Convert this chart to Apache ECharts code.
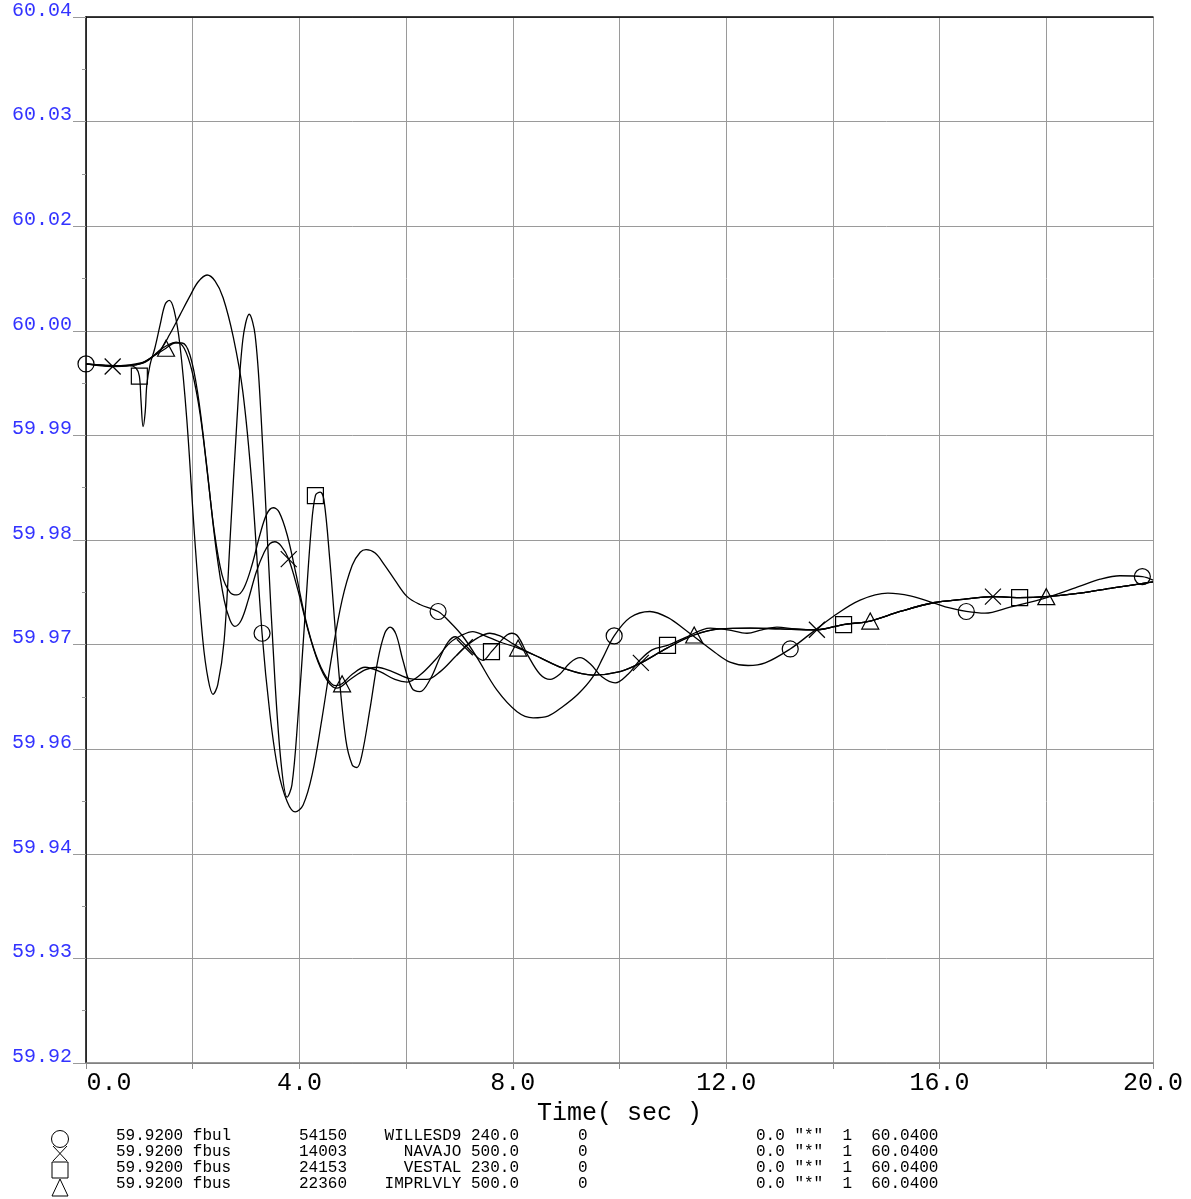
<!DOCTYPE html>
<html><head><meta charset="utf-8">
<script src="https://cdn.jsdelivr.net/npm/echarts@6/dist/echarts.min.js"></script>
<style>html,body{margin:0;padding:0;background:#fff}#c{width:1191px;height:1199px}</style>
</head><body><div id="c"></div>
<script>
// ---- data (time in s, frequency in Hz) ----
const willesd9 = [[0,60.0002],[0.45,60.0000],[0.82,60.0001],[1.11,60.0005],[1.39,60.0018],[1.57,60.0036],[1.76,60.0058],[1.95,60.0080],[2.10,60.0096],[2.27,60.0104],[2.42,60.0097],[2.57,60.0078],[2.76,60.0033],[2.94,59.9970],[3.11,59.9863],[3.3,59.9693],[3.45,59.9599],[3.60,59.9536],[3.77,59.9500],[3.92,59.9488],[4.07,59.9496],[4.24,59.9531],[4.42,59.9594],[4.61,59.9668],[4.80,59.9731],[4.99,59.9771],[5.14,59.9786],[5.25,59.9789],[5.42,59.9785],[5.60,59.9771],[5.79,59.9754],[6.02,59.9735],[6.26,59.9726],[6.6,59.9718],[6.82,59.9706],[7.07,59.9689],[7.33,59.9665],[7.70,59.9628],[8.08,59.9603],[8.38,59.9596],[8.66,59.9598],[8.94,59.9609],[9.22,59.9623],[9.50,59.9643],[9.69,59.9665],[9.9,59.9690],[10.20,59.9711],[10.57,59.9718],[10.91,59.9711],[11.23,59.9697],[11.51,59.9684],[11.79,59.9671],[12.07,59.9660],[12.41,59.9656],[12.73,59.9659],[13.2,59.9675],[13.57,59.9692],[14.00,59.9712],[14.51,59.9731],[15.03,59.9739],[15.45,59.9736],[15.88,59.9728],[16.19,59.9722],[16.5,59.9718],[16.85,59.9716],[17.32,59.9723],[18.01,59.9734],[18.63,59.9747],[19.01,59.9755],[19.38,59.9759],[19.8,59.9758],[20.0,59.9754]];

const navajo = [[0,60.0002],[0.5,59.9999],[0.82,60.0000],[1.11,60.0004],[1.35,60.0016],[1.54,60.0024],[1.69,60.0027],[1.84,60.0020],[1.99,59.9993],[2.14,59.9944],[2.29,59.9869],[2.44,59.9789],[2.59,59.9731],[2.70,59.9708],[2.79,59.9701],[2.91,59.9708],[3.04,59.9731],[3.19,59.9763],[3.34,59.9786],[3.45,59.9796],[3.54,59.9798],[3.66,59.9793],[3.8,59.9778],[3.97,59.9743],[4.16,59.9697],[4.35,59.9660],[4.54,59.9637],[4.70,59.9630],[4.95,59.9640],[5.23,59.9651],[5.45,59.9654],[5.74,59.9649],[6.07,59.9641],[6.39,59.9640],[6.64,59.9649],[6.92,59.9666],[7.1,59.9677],[7.35,59.9688],[7.57,59.9693],[7.76,59.9690],[7.95,59.9683],[8.14,59.9676],[8.51,59.9665],[8.94,59.9653],[9.50,59.9645],[10.01,59.9649],[10.4,59.9659],[10.89,59.9676],[11.4,59.9691],[11.88,59.9698],[12.45,59.9699],[13.01,59.9698],[13.7,59.9697],[14.19,59.9703],[14.7,59.9707],[15.26,59.9718],[15.88,59.9728],[16.44,59.9732],[17.0,59.9735],[17.49,59.9734],[18.0,59.9735],[18.63,59.9739],[19.25,59.9745],[20,59.9752]];

const vestal = [[0,60.0002],[0.45,60.0000],[0.82,60.0000],[0.94,59.9997],[1.0,59.9988],[1.03,59.9961],[1.07,59.9930],[1.11,59.9947],[1.14,59.9978],[1.20,60.0001],[1.29,60.0020],[1.39,60.0047],[1.48,60.0070],[1.56,60.0075],[1.65,60.0064],[1.76,60.0024],[1.89,59.9938],[2.04,59.9800],[2.19,59.9685],[2.29,59.9640],[2.38,59.9623],[2.47,59.9634],[2.59,59.9685],[2.70,59.9800],[2.83,59.9938],[2.94,60.0030],[3.06,60.0059],[3.17,60.0035],[3.28,59.9944],[3.41,59.9789],[3.54,59.9640],[3.66,59.9542],[3.77,59.9505],[3.86,59.9519],[3.97,59.9594],[4.10,59.9708],[4.22,59.9812],[4.3,59.9851],[4.39,59.9855],[4.46,59.9846],[4.57,59.9777],[4.72,59.9662],[4.87,59.9571],[4.99,59.9542],[5.08,59.9539],[5.17,59.9553],[5.32,59.9605],[5.47,59.9662],[5.60,59.9693],[5.70,59.9700],[5.81,59.9692],[5.94,59.9662],[6.11,59.9630],[6.26,59.9626],[6.45,59.9640],[6.64,59.9666],[6.79,59.9683],[6.92,59.9689],[7.07,59.9682],[7.24,59.9671],[7.44,59.9662],[7.6,59.9672],[7.76,59.9683],[7.89,59.9691],[7.98,59.9693],[8.10,59.9689],[8.28,59.9668],[8.51,59.9646],[8.70,59.9640],[8.88,59.9646],[9.07,59.9659],[9.26,59.9665],[9.45,59.9658],[9.67,59.9643],[9.92,59.9636],[10.16,59.9646],[10.38,59.9662],[10.61,59.9674],[10.9,59.9679],[11.23,59.9688],[11.70,59.9699],[12.03,59.9697],[12.39,59.9693],[12.67,59.9697],[12.95,59.9700],[13.29,59.9698],[13.70,59.9697],[14.2,59.9703],[14.70,59.9707],[15.26,59.9718],[15.88,59.9728],[16.44,59.9732],[17.00,59.9735],[17.5,59.9734],[17.99,59.9735],[18.63,59.9739],[19.25,59.9745],[20,59.9752]];

const imprlvly = [[0,60.0002],[0.64,60.0000],[1.01,60.0002],[1.29,60.0012],[1.5,60.0020],[1.67,60.0026],[1.80,60.0026],[1.95,60.0012],[2.10,59.9966],[2.25,59.9892],[2.40,59.9812],[2.55,59.9760],[2.70,59.9740],[2.83,59.9737],[2.96,59.9745],[3.11,59.9771],[3.26,59.9806],[3.39,59.9830],[3.51,59.9837],[3.62,59.9832],[3.77,59.9806],[3.94,59.9760],[4.12,59.9708],[4.31,59.9668],[4.50,59.9643],[4.67,59.9633],[4.8,59.9635],[4.99,59.9646],[5.23,59.9654],[5.51,59.9649],[5.79,59.9640],[6.02,59.9637],[6.26,59.9645],[6.54,59.9662],[6.82,59.9682],[7.05,59.9691],[7.25,59.9695],[7.48,59.9690],[7.76,59.9683],[8.1,59.9676],[8.51,59.9665],[8.94,59.9653],[9.50,59.9645],[10.01,59.9649],[10.4,59.9659],[10.89,59.9676],[11.4,59.9691],[11.88,59.9698],[12.45,59.9699],[13.01,59.9698],[13.7,59.9697],[14.19,59.9703],[14.7,59.9707],[15.26,59.9718],[15.88,59.9728],[16.44,59.9732],[17.0,59.9735],[17.49,59.9734],[18.0,59.9735],[18.63,59.9739],[19.25,59.9745],[20,59.9752]];

// marker times for each curve
const circleMarks   = [0, 3.3, 6.6, 9.9, 13.2, 16.5, 19.8];
const crossMarks    = [0.5, 3.8, 7.1, 10.4, 13.7, 17.0];
const squareMarks   = [1.0, 4.3, 7.6, 10.9, 14.2, 17.5];
const triangleMarks = [1.5, 4.8, 8.1, 11.4, 14.7, 18.0];

// tick labels
const xTickLabels = ['0.0','','4.0','','8.0','','12.0','','16.0','','20.0'];
const yTickLabels = ['59.92','59.93','59.94','59.96','59.97','59.98','59.99','60.00','60.02','60.03','60.04'];

// legend table
const legendRows = [
  ['59.9200 fbul', '54150', 'WILLESD9 240.0', '0', '0.0 "*"  1  60.0400'],
  ['59.9200 fbus', '14003', 'NAVAJO 500.0',   '0', '0.0 "*"  1  60.0400'],
  ['59.9200 fbus', '24153', 'VESTAL 230.0',   '0', '0.0 "*"  1  60.0400'],
  ['59.9200 fbus', '22360', 'IMPRLVLY 500.0', '0', '0.0 "*"  1  60.0400']
];

// ---- chart ----
const MONO = '"Liberation Mono", "DejaVu Sans Mono", monospace';
const CROSS = 'path://M0,0L10,10M10,0L0,10';

function build(points, marks, sym, size) {
  return points.map(p => {
    const isMark = marks.some(m => Math.abs(m - p[0]) < 1e-6);
    return isMark ? { value: p, symbol: sym, symbolSize: size } : { value: p, symbol: 'none' };
  });
}

function mkSeries(name, points, marks, sym, size) {
  return {
    name, type: 'line', smooth: 0.35,
    data: build(points, marks, sym, size),
    showSymbol: true,
    lineStyle: { color: '#000', width: 1.3 },
    itemStyle: { color: 'rgba(0,0,0,0)', borderColor: '#000', borderWidth: 1.2 },
    emphasis: { disabled: true },
    silent: true, z: 3
  };
}

const chart = echarts.init(document.getElementById('c'), null, { renderer: 'canvas' });

const graphics = [];
const rowY = [1136, 1152, 1168, 1184];
const colX = [116, 299, 519, 578, 756];
legendRows.forEach((r, i) => {
  r.forEach((txt, j) => {
    graphics.push({
      type: 'text', silent: true,
      style: {
        text: txt, x: colX[j], y: rowY[i],
        font: '16px ' + MONO, fill: '#000',
        align: j === 2 ? 'right' : 'left', verticalAlign: 'middle'
      }
    });
  });
});
const ls = { fill: 'none', stroke: '#000', lineWidth: 1 };
graphics.push({ type: 'circle', silent: true, shape: { cx: 60, cy: 1139, r: 8.5 }, style: ls });
graphics.push({ type: 'line', silent: true, shape: { x1: 53, y1: 1146, x2: 67, y2: 1161 }, style: ls });
graphics.push({ type: 'line', silent: true, shape: { x1: 67, y1: 1146, x2: 53, y2: 1161 }, style: ls });
graphics.push({ type: 'rect', silent: true, shape: { x: 52, y: 1162, width: 16, height: 16 }, style: ls });
graphics.push({ type: 'polygon', silent: true, shape: { points: [[60, 1179], [68, 1196], [52, 1196]] }, style: ls });

chart.setOption({
  animation: false,
  backgroundColor: '#fff',
  grid: { left: 86, top: 17, right: 38, bottom: 136, containLabel: false },
  xAxis: [{
    type: 'value', min: 0, max: 20, interval: 2, position: 'bottom',
    name: 'Time( sec )', nameLocation: 'middle', nameGap: 30,
    nameTextStyle: { fontFamily: MONO, fontSize: 25, color: '#000' },
    axisLine: { show: true, lineStyle: { color: '#7a7a7a', width: 1.5 } },
    axisTick: { show: true, length: 6, lineStyle: { color: '#8c8c8c' } },
    splitLine: { show: true, lineStyle: { color: '#9a9a9a', width: 1 } },
    axisLabel: {
      margin: 8, fontFamily: MONO, fontSize: 25, color: '#000',
      formatter: v => {
        const lab = xTickLabels[Math.round(v / 2)] || '';
        return v === 0 ? '{s|' + lab + '}' : lab;
      },
      rich: { s: { fontFamily: MONO, fontSize: 25, color: '#000', padding: [0, 0, 0, 46] } }
    }
  }, {
    type: 'value', min: 0, max: 20, position: 'top',
    axisLine: { show: true, lineStyle: { color: '#000', width: 1.5 } },
    axisTick: { show: false }, axisLabel: { show: false }, splitLine: { show: false }
  }],
  yAxis: [{
    type: 'value', min: 59.92, max: 60.04, interval: 0.012,
    axisLine: { show: true, lineStyle: { color: '#000', width: 1.5 } },
    axisTick: { show: true, length: 13, lineStyle: { color: '#9a9a9a' } },
    minorTick: { show: true, splitNumber: 2, length: 4, lineStyle: { color: '#9a9a9a' } },
    splitLine: { show: true, lineStyle: { color: '#9a9a9a', width: 1 } },
    axisLabel: {
      margin: 14, fontFamily: MONO, fontSize: 20, color: '#3333ff',
      verticalAlign: 'bottom', lineHeight: 13,
      formatter: v => yTickLabels[Math.round((v - 59.92) / 0.012)] || ''
    }
  }],
  series: [
    mkSeries('WILLESD9', willesd9, circleMarks, 'circle', 16),
    mkSeries('NAVAJO', navajo, crossMarks, CROSS, 16),
    mkSeries('VESTAL', vestal, squareMarks, 'rect', 16),
    mkSeries('IMPRLVLY', imprlvly, triangleMarks, 'triangle', [17, 16])
  ],
  graphic: graphics
});
</script></body></html>
